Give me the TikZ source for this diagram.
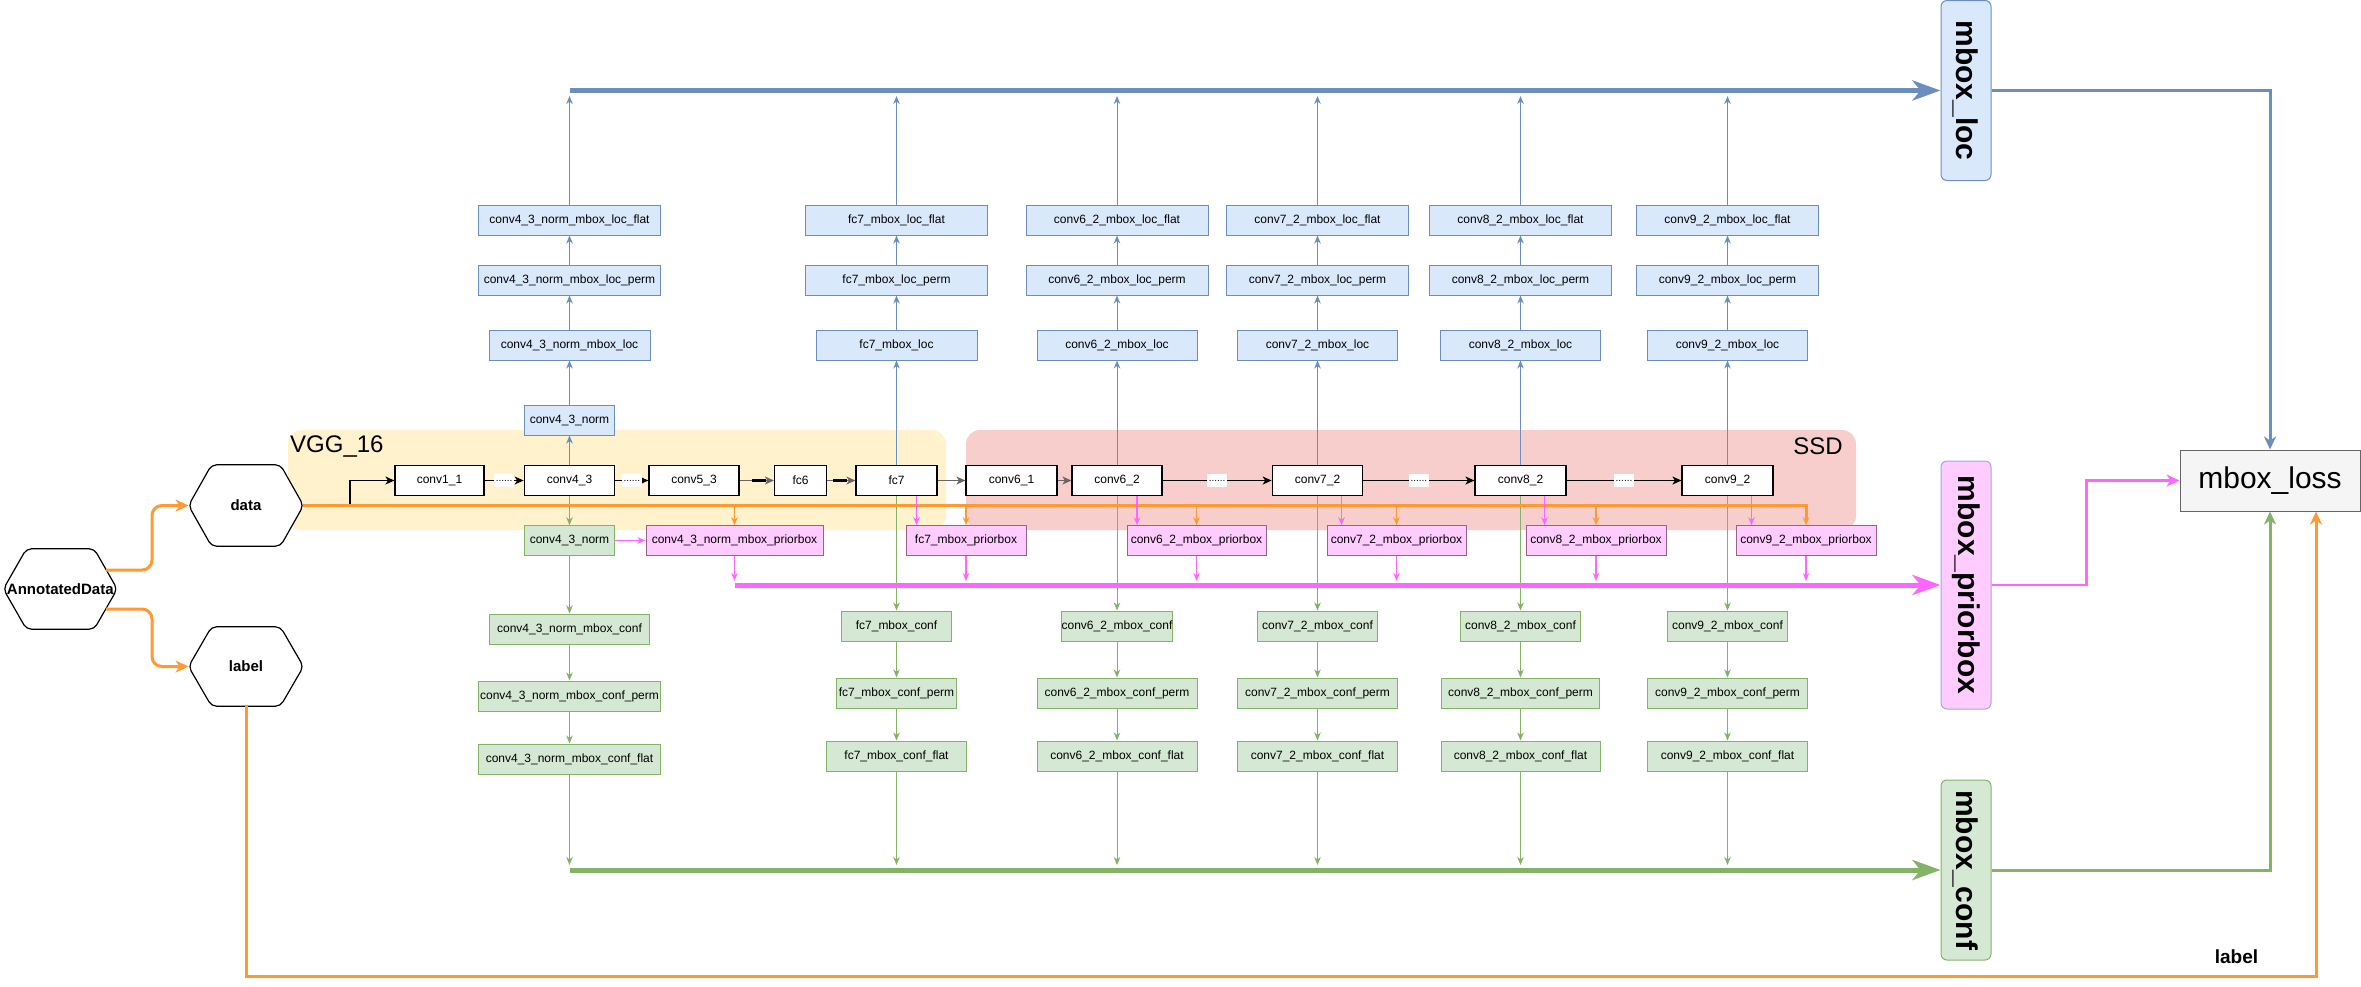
\documentclass[tikz,border=0pt]{standalone}
\usepackage{fontspec}
\setmainfont{Liberation Sans}
\usetikzlibrary{arrows.meta,calc}
\pgfdeclarelayer{back}
\pgfsetlayers{back,main}
\definecolor{locfill}{HTML}{DAE8FC}
\definecolor{locstroke}{HTML}{6C8EBF}
\definecolor{conffill}{HTML}{D5E8D4}
\definecolor{confstroke}{HTML}{82B366}
\definecolor{priorfill}{HTML}{FFCCFF}
\definecolor{priorstroke}{HTML}{996185}
\definecolor{mpriorstroke}{HTML}{9DA8DA}
\definecolor{pinkc}{HTML}{FF66FF}
\definecolor{orangec}{HTML}{FF9933}
\definecolor{vggfill}{HTML}{FFF2CC}
\definecolor{ssdfill}{HTML}{F8CECC}
\definecolor{lossfill}{HTML}{F5F5F5}
\definecolor{lossstroke}{HTML}{666666}
\newcommand\bxf{\fontsize{12}{14}\selectfont}
\newcommand\bigf{\fontsize{30}{34}\selectfont\bfseries}
\newcommand\hexf{\fontsize{15}{18}\selectfont\bfseries}
\begin{document}
\begin{tikzpicture}[x=1pt,y=-1pt,
  tipS/.tip={Stealth[length=8pt,width=6.5pt,inset=2.5pt]},
  tipC/.tip={Stealth[length=9pt,width=8pt,inset=2.5pt]},
  tipM/.tip={Stealth[length=13pt,width=12pt,inset=4pt]},
  tipL/.tip={Stealth[length=28pt,width=20pt,inset=8pt]},
  conv/.style={draw=black, fill=white, line width=1.2pt, minimum height=29.5pt, inner sep=0pt, font=\bxf},
  locb/.style={draw=locstroke, fill=locfill, line width=1pt, minimum height=30pt, inner sep=0pt, font=\bxf},
  confb/.style={draw=confstroke, fill=conffill, line width=1pt, minimum height=30pt, inner sep=0pt, font=\bxf},
  priorb/.style={draw=priorstroke, fill=priorfill, line width=1pt, minimum height=29.5pt, inner sep=0pt, font=\bxf},
  bigbox/.style={rounded corners=6pt, line width=1pt, minimum width=50pt, inner sep=0pt, font=\bigf},
  hexn/.style={inner sep=0pt, font=\hexf},
  hexd/.style={draw=black, fill=white, line width=1.2pt, rounded corners=5pt},
  chain/.style={draw=black, line width=1.2pt, -tipC},
  graychain/.style={draw=black!60, line width=1.2pt, -tipC},
  dots/.style={fill=white, inner sep=1.5pt, text height=6pt, text depth=4pt, font=\fontsize{10}{10}\selectfont},
  bl/.style={draw=locstroke, line width=1pt, -tipS},
  gr/.style={draw=confstroke, line width=1pt, -tipS},
  pk/.style={draw=pinkc, line width=1.5pt, -tipS},
  orS/.style={draw=orangec, line width=1.5pt, -tipS},
  orL/.style={draw=orangec, line width=3pt, -tipM},
  heavy/.style={line width=5pt, -tipL},
  mid/.style={line width=3pt, -tipM},
  bgbox/.style={rounded corners=14pt, inner sep=0pt, draw=none}
]
\useasboundingbox (0,0) rectangle (2361,986);

% ---------- backgrounds ----------
\begin{pgfonlayer}{back}
\node[bgbox, fill=vggfill, minimum width=658pt, minimum height=100pt] (vgg) at (617,480) {};
\node[bgbox, fill=ssdfill, minimum width=890pt, minimum height=100pt] (ssd) at (1411,480) {};
\end{pgfonlayer}
\node[anchor=west, inner sep=0pt, font=\fontsize{24}{28}\selectfont] (vggt) at (290,446) {VGG\_16};
\node[anchor=east, inner sep=0pt, font=\fontsize{24}{28}\selectfont] (ssdt) at (1843,446) {SSD};

% ---------- hexagons ----------
\node[hexn, minimum width=113.4pt, minimum height=80pt] (AD) at (60.3,589) {AnnotatedData};
\node[hexn, minimum width=114.5pt, minimum height=81pt] (data) at (246,505.5) {data};
\node[hexn, minimum width=114.5pt, minimum height=79pt] (lab) at (246,666.5) {label};
\begin{pgfonlayer}{back}
\foreach \h in {AD,data,lab}{
  \draw[hexd] (\h.west) -- ([xshift=23pt]\h.north west) -- ([xshift=-23pt]\h.north east) -- (\h.east) -- ([xshift=-23pt]\h.south east) -- ([xshift=23pt]\h.south west) -- cycle;
}
\end{pgfonlayer}

% ---------- main chain ----------
\node[conv, minimum width=89pt] (c11) at (439.5,480.5) {conv1\_1};
\node[conv, minimum width=90.6pt] (c43) at (569.5,480.5) {conv4\_3};
\node[conv, minimum width=90pt] (c53) at (694,480.5) {conv5\_3};
\node[conv, minimum width=52pt] (fc6) at (800.5,480.5) {fc6};
\node[conv, minimum width=81pt] (fc7) at (896.5,480.5) {fc7};
\node[conv, minimum width=91pt] (c61) at (1011.5,480.5) {conv6\_1};
\node[conv, minimum width=90pt] (c62) at (1117,480.5) {conv6\_2};
\node[conv, minimum width=90.5pt] (c72) at (1317.5,480.5) {conv7\_2};
\node[conv, minimum width=91pt] (c82) at (1520.5,480.5) {conv8\_2};
\node[conv, minimum width=91pt] (c92) at (1727.5,480.5) {conv9\_2};

% ---------- loc branch ----------
\node[locb, minimum width=90.6pt] (n43b) at (569.5,420) {conv4\_3\_norm};
\node[locb, minimum width=161pt] (L1) at (569.5,345) {conv4\_3\_norm\_mbox\_loc};
\node[locb, minimum width=182pt] (P1) at (569.5,280) {conv4\_3\_norm\_mbox\_loc\_perm};
\node[locb, minimum width=182pt] (F1) at (569.5,220) {conv4\_3\_norm\_mbox\_loc\_flat};
\node[locb, minimum width=161pt] (L2) at (896.5,345) {fc7\_mbox\_loc};
\node[locb, minimum width=182pt] (P2) at (896.5,280) {fc7\_mbox\_loc\_perm};
\node[locb, minimum width=182pt] (F2) at (896.5,220) {fc7\_mbox\_loc\_flat};
\node[locb, minimum width=160pt] (L3) at (1117,345) {conv6\_2\_mbox\_loc};
\node[locb, minimum width=182pt] (P3) at (1117,280) {conv6\_2\_mbox\_loc\_perm};
\node[locb, minimum width=182pt] (F3) at (1117,220) {conv6\_2\_mbox\_loc\_flat};
\node[locb, minimum width=160pt] (L4) at (1317.5,345) {conv7\_2\_mbox\_loc};
\node[locb, minimum width=182pt] (P4) at (1317.5,280) {conv7\_2\_mbox\_loc\_perm};
\node[locb, minimum width=182pt] (F4) at (1317.5,220) {conv7\_2\_mbox\_loc\_flat};
\node[locb, minimum width=160pt] (L5) at (1520.5,345) {conv8\_2\_mbox\_loc};
\node[locb, minimum width=182pt] (P5) at (1520.5,280) {conv8\_2\_mbox\_loc\_perm};
\node[locb, minimum width=182pt] (F5) at (1520.5,220) {conv8\_2\_mbox\_loc\_flat};
\node[locb, minimum width=160pt] (L6) at (1727.5,345) {conv9\_2\_mbox\_loc};
\node[locb, minimum width=182pt] (P6) at (1727.5,280) {conv9\_2\_mbox\_loc\_perm};
\node[locb, minimum width=182pt] (F6) at (1727.5,220) {conv9\_2\_mbox\_loc\_flat};

% ---------- priorbox row ----------
\node[confb, minimum width=90.6pt, minimum height=29.5pt] (n43g) at (569.5,540.5) {conv4\_3\_norm};
\node[priorb, minimum width=177pt] (PB1) at (734.5,540.5) {conv4\_3\_norm\_mbox\_priorbox};
\node[priorb, minimum width=120pt] (PB2) at (966,540.5) {fc7\_mbox\_priorbox};
\node[priorb, minimum width=139pt] (PB3) at (1196.5,540.5) {conv6\_2\_mbox\_priorbox};
\node[priorb, minimum width=139pt] (PB4) at (1396.5,540.5) {conv7\_2\_mbox\_priorbox};
\node[priorb, minimum width=140pt] (PB5) at (1596,540.5) {conv8\_2\_mbox\_priorbox};
\node[priorb, minimum width=140pt] (PB6) at (1806,540.5) {conv9\_2\_mbox\_priorbox};

% ---------- conf branch ----------
\node[confb, minimum width=160pt] (C1) at (569.5,629) {conv4\_3\_norm\_mbox\_conf};
\node[confb, minimum width=181.5pt] (CP1) at (569.5,696) {conv4\_3\_norm\_mbox\_conf\_perm};
\node[confb, minimum width=181.5pt] (CF1) at (569.5,759) {conv4\_3\_norm\_mbox\_conf\_flat};
\node[confb, minimum width=110.5pt] (C2) at (896.5,626) {fc7\_mbox\_conf};
\node[confb, minimum width=120pt] (CP2) at (896.5,693) {fc7\_mbox\_conf\_perm};
\node[confb, minimum width=139.5pt] (CF2) at (896.5,756) {fc7\_mbox\_conf\_flat};
\node[confb, minimum width=110.5pt] (C3) at (1117,626) {conv6\_2\_mbox\_conf};
\node[confb, minimum width=160pt] (CP3) at (1117,693) {conv6\_2\_mbox\_conf\_perm};
\node[confb, minimum width=160pt] (CF3) at (1117,756) {conv6\_2\_mbox\_conf\_flat};
\node[confb, minimum width=120pt] (C4) at (1317.5,626) {conv7\_2\_mbox\_conf};
\node[confb, minimum width=160pt] (CP4) at (1317.5,693) {conv7\_2\_mbox\_conf\_perm};
\node[confb, minimum width=160pt] (CF4) at (1317.5,756) {conv7\_2\_mbox\_conf\_flat};
\node[confb, minimum width=120pt] (C5) at (1520.5,626) {conv8\_2\_mbox\_conf};
\node[confb, minimum width=158pt] (CP5) at (1520.5,693) {conv8\_2\_mbox\_conf\_perm};
\node[confb, minimum width=159pt] (CF5) at (1520.5,756) {conv8\_2\_mbox\_conf\_flat};
\node[confb, minimum width=120.5pt] (C6) at (1727.5,626) {conv9\_2\_mbox\_conf};
\node[confb, minimum width=160.5pt] (CP6) at (1727.5,693) {conv9\_2\_mbox\_conf\_perm};
\node[confb, minimum width=160.5pt] (CF6) at (1727.5,756) {conv9\_2\_mbox\_conf\_flat};

% ---------- right column ----------
\node[bigbox, draw=locstroke, fill=locfill, minimum height=180pt] (mloc) at (1966,90.5) {\rotatebox{-90}{mbox\_loc}};
\node[bigbox, draw=mpriorstroke, fill=priorfill, minimum height=248pt] (mprior) at (1966,585) {\rotatebox{-90}{mbox\_priorbox}};
\node[bigbox, draw=confstroke, fill=conffill, minimum height=180pt] (mconf) at (1966,870) {\rotatebox{-90}{mbox\_conf}};
\node[draw=lossstroke, fill=lossfill, line width=1pt, minimum width=180pt, minimum height=61pt, inner sep=0pt, font=\fontsize{30}{34}\selectfont] (mloss) at (2270,480.5) {mbox\_loss};
\node[inner sep=0pt, font=\fontsize{19}{21}\selectfont\bfseries] (lbl2) at (2236.5,957) {label};

% ---------- coordinates ----------
\coordinate (blueS) at (569.5,90.5);
\coordinate (blueTip) at (0,96);
\coordinate (greenS) at (569.5,870);
\coordinate (greenTip) at (0,865);
\coordinate (pinkS) at (734.5,585);
\coordinate (pinkTip) at (0,581);
\coordinate (dj) at (350,505.5);
\coordinate (ad1) at (106,570);
\coordinate (ad2) at (106,609);
\coordinate (lossO) at (2316,976);

% ---------- input edges ----------
\draw[orL, rounded corners=10pt] (ad1) -- ++(46,0) |- (data.west);
\draw[orL, rounded corners=10pt] (ad2) -- ++(46,0) |- (lab.west);
\draw[chain] (dj) |- (c11.west);

% ---------- chain edges ----------
\draw[chain] (c11) -- node[dots] (d1) {......} (c43);
\draw[chain] (c43) -- node[dots] (d2) {......} (c53);
\draw[graychain] (c53) -- (fc6);
\draw[graychain] (fc6) -- (fc7);
\draw[graychain] (fc7) -- (c61);
\draw[graychain] (c61) -- (c62);
\foreach \a/\b in {c53/fc6,fc6/fc7}{
  \draw[line width=2.4pt, black] ($(\b.west)+(-22,0)$) -- ($(\b.west)+(-8,0)$);
}
\draw[chain] (c62) -- node[dots] (d3) {......} (c72);
\draw[chain] (c72) -- node[dots] (d4) {......} (c82);
\draw[chain] (c82) -- node[dots] (d5) {......} (c92);

% ---------- loc edges ----------
\draw[bl] (c43.north) -- (n43b.south);
\draw[bl] (n43b.north) -- (L1.south);
\draw[bl] (fc7.north) -- (L2.south);
\draw[bl] (c62.north) -- (L3.south);
\draw[bl] (c72.north) -- (L4.south);
\draw[bl] (c82.north) -- (L5.south);
\draw[bl] (c92.north) -- (L6.south);
\foreach \i in {1,...,6}{
  \draw[bl] (L\i.north) -- (P\i.south);
  \draw[bl] (P\i.north) -- (F\i.south);
  \draw[bl] (F\i.north) -- (F\i.north |- blueTip);
}

% ---------- conf edges ----------
\draw[gr] (c43.south) -- (n43g.north);
\draw[gr] (n43g.south) -- (C1.north);
\draw[gr] (fc7.south) -- (C2.north);
\draw[gr] (c62.south) -- (C3.north);
\draw[gr] (c72.south) -- (C4.north);
\draw[gr] (c82.south) -- (C5.north);
\draw[gr] (c92.south) -- (C6.north);
\foreach \i in {1,...,6}{
  \draw[gr] (C\i.south) -- (CP\i.north);
  \draw[gr] (CP\i.south) -- (CF\i.north);
  \draw[gr] (CF\i.south) -- (CF\i.south |- greenTip);
}

% ---------- orange data line ----------
\draw[orL, -tipS] (data.east) -| (PB6.north);
\foreach \i in {1,...,5}{
  \draw[orS] (PB\i.north |- data.east) -- (PB\i.north);
}

% ---------- priorbox edges ----------
\draw[pk] (n43g.east) -- (PB1.west);
\draw[pk] ($(fc7.south)+(20,0)$) -- ($(PB2.north -| fc7.south)+(20,0)$);
\draw[pk] ($(c62.south)+(20,0)$) -- ($(PB3.north -| c62.south)+(20,0)$);
\draw[pk] ($(c72.south)+(24,0)$) -- ($(PB4.north -| c72.south)+(24,0)$);
\draw[pk] ($(c82.south)+(24,0)$) -- ($(PB5.north -| c82.south)+(24,0)$);
\draw[pk] ($(c92.south)+(24,0)$) -- ($(PB6.north -| c92.south)+(24,0)$);
\foreach \i in {1,...,6}{
  \draw[pk] (PB\i.south) -- (PB\i.south |- pinkTip);
}

% ---------- heavy collector lines ----------
\draw[heavy, draw=locstroke, fill=locstroke] (blueS) -- (mloc.west);
\draw[heavy, draw=pinkc, fill=pinkc] (pinkS) -- (mprior.west);
\draw[heavy, draw=confstroke, fill=confstroke] (greenS) -- (mconf.west);

% ---------- loss edges ----------
\draw[mid, draw=locstroke] (mloc.east) -| (mloss.north);
\draw[mid, draw=confstroke] (mconf.east) -| (mloss.south);
\draw[mid, draw=pinkc, line width=2.5pt] (mprior.east) -- ++(95,0) |- (mloss.west);
\draw[orL] (lab.south) |- (lossO) -- ([xshift=46pt]mloss.south);
\end{tikzpicture}
\end{document}
